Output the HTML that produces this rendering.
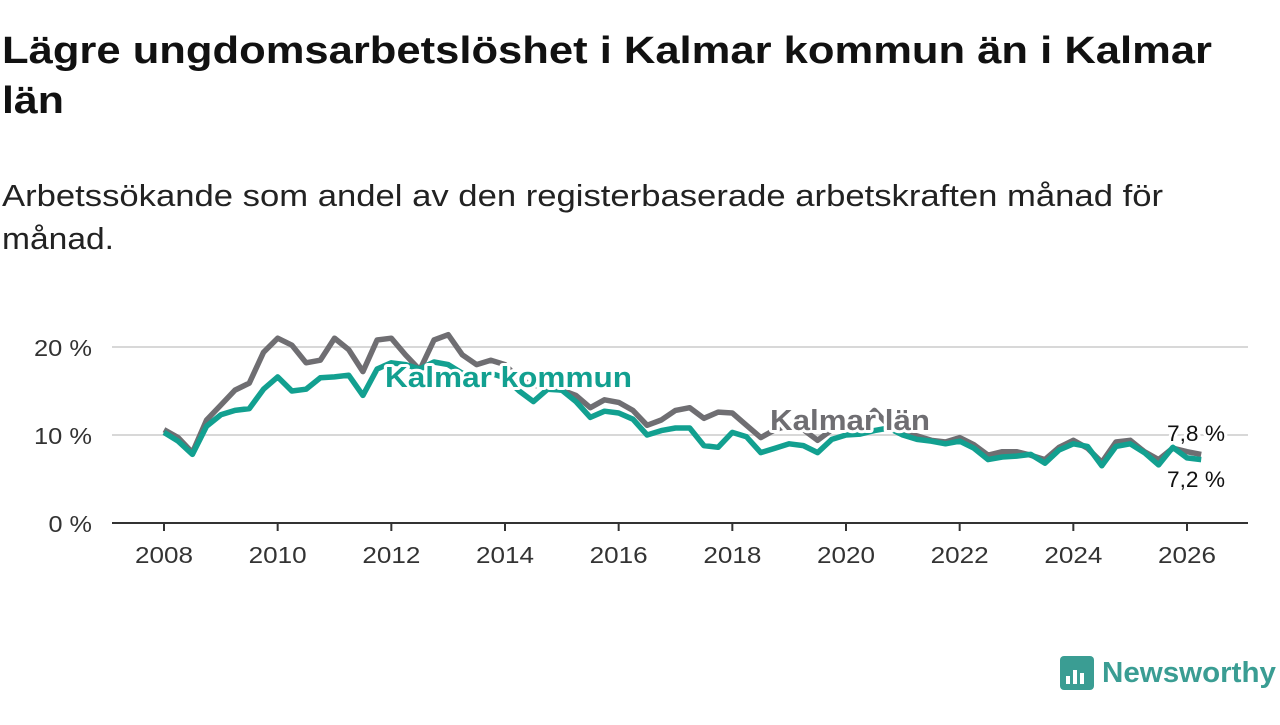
<!DOCTYPE html>
<html><head><meta charset="utf-8"><style>
html,body{margin:0;padding:0;background:#fff;}
body{width:1280px;height:720px;overflow:hidden;font-family:"Liberation Sans",sans-serif;}
</style></head><body>
<svg id="chart" width="1280" height="720" xmlns="http://www.w3.org/2000/svg">
<text x="2" y="63" font-size="38" font-weight="bold" fill="#111" textLength="1210" lengthAdjust="spacingAndGlyphs">Lägre ungdomsarbetslöshet i Kalmar kommun än i Kalmar</text>
<text x="2" y="113" font-size="38" font-weight="bold" fill="#111" textLength="62" lengthAdjust="spacingAndGlyphs">län</text>
<text x="2" y="206" font-size="31" fill="#222" textLength="1161" lengthAdjust="spacingAndGlyphs">Arbetssökande som andel av den registerbaserade arbetskraften månad för</text>
<text x="2" y="249" font-size="31" fill="#222" textLength="112" lengthAdjust="spacingAndGlyphs">månad.</text>
<g id="grid"></g><g id="series"></g><g id="labels"></g>
<g>
<rect x="1060" y="656" width="34" height="34" rx="4" fill="#3a9d93"/>
<rect x="1066" y="676" width="4" height="8" fill="#fff"/><rect x="1073" y="670" width="4" height="14" fill="#fff"/><rect x="1080" y="673" width="4" height="11" fill="#fff"/>
<text x="1102" y="682" font-size="29" font-weight="bold" fill="#3a9d93" textLength="174" lengthAdjust="spacingAndGlyphs">Newsworthy</text>
</g>
</svg>
<script>
const lanValues=[10.6,9.7,8.0,11.7,13.4,15.1,15.9,19.4,21.0,20.2,18.2,18.5,21.0,19.7,17.2,20.8,21.0,19.1,17.4,20.8,21.4,19.1,18.0,18.5,18.0,16.3,15.7,15.3,15.1,14.5,13.1,14.0,13.7,12.8,11.1,11.7,12.8,13.1,11.9,12.6,12.5,11.1,9.7,10.6,11.1,10.6,9.4,10.6,11.1,11.1,12.8,11.1,10.3,9.9,9.4,9.2,9.7,8.9,7.7,8.1,8.1,7.7,7.2,8.6,9.4,8.5,6.9,9.2,9.4,8.1,7.2,8.5,8.1,7.8];
const kommunValues=[10.3,9.3,7.8,11.0,12.3,12.8,13.0,15.2,16.6,15.0,15.2,16.5,16.6,16.8,14.5,17.5,18.2,18.0,17.5,18.3,18.0,17.0,16.8,17.0,16.5,15.0,13.8,15.2,15.1,13.8,12.0,12.7,12.5,11.8,10.0,10.5,10.8,10.8,8.8,8.6,10.3,9.8,8.0,8.5,9.0,8.8,8.0,9.5,10.0,10.1,10.5,10.8,10.0,9.5,9.3,9.0,9.3,8.5,7.2,7.5,7.6,7.8,6.8,8.3,9.0,8.7,6.5,8.7,9.0,8.0,6.6,8.6,7.4,7.2];
const startYear=2008;
const yTicks=[0,10,20];
const yTickLabels=["0 %","10 %","20 %"];
const xTicks=[2008,2010,2012,2014,2016,2018,2020,2022,2024,2026];
const NS="http://www.w3.org/2000/svg";
const xs=y=>164+(y-2008)*(1187-164)/18;
const ys=v=>523-v*8.8;
function mk(tag,attrs,parent){const e=document.createElementNS(NS,tag);for(const k in attrs)e.setAttribute(k,attrs[k]);parent.appendChild(e);return e;}
const grid=document.getElementById('grid');
yTicks.forEach((t,i)=>{
 if(t>0){const l=mk('line',{x1:112,x2:1248,y1:ys(t),y2:ys(t),stroke:'#d8d8d8','stroke-width':2},grid);
 
 }
 const tx=mk('text',{x:92,y:ys(t)+9,'font-size':23,fill:'#333','text-anchor':'end'},grid);tx.textContent=yTickLabels[i];
 tx.setAttribute('textLength',yTickLabels[i].length*14.5);
 tx.setAttribute('lengthAdjust','spacingAndGlyphs');
 
 
});
const ax=mk('line',{x1:112,x2:1248,y1:523,y2:523,stroke:'#333','stroke-width':2},grid);


xTicks.forEach(t=>{
 mk('line',{x1:xs(t),x2:xs(t),y1:523,y2:531,stroke:'#333','stroke-width':2},grid);
 const tx=mk('text',{x:xs(t),y:563,'font-size':23,fill:'#333','text-anchor':'middle',textLength:58,lengthAdjust:'spacingAndGlyphs'},grid);tx.textContent=t;
 
 
});
const ser=document.getElementById('series');
function line(vals,color,name){
 const d=vals.map((v,i)=>(i?'L':'M')+xs(startYear+i*0.25).toFixed(1)+','+ys(v).toFixed(1)).join('');
 const p=mk('path',{d:d,fill:'none',stroke:color,'stroke-width':5.5,'stroke-linejoin':'round'},ser);
 
 
}
line(lanValues,'#6f6e72','line-kalmar-lan');
line(kommunValues,'#12a090','line-kalmar-kommun');
const lab=document.getElementById('labels');
function label(x,y,txt,color,size,weight,len,name){
 const t=mk('text',{x:x,y:y,'font-size':size,'font-weight':weight,fill:color,stroke:'#fff','stroke-width':6,'paint-order':'stroke','stroke-linejoin':'round',textLength:len,lengthAdjust:'spacingAndGlyphs'},lab);
 t.textContent=txt;
 
 
}
label(385,387,'Kalmar kommun','#12a090',29,'bold',247,'label-kalmar-kommun');
label(770,430,'Kalmar län','#6f6e72',29,'bold',160,'label-kalmar-lan');
label(1167,441,'7,8 %','#111',22,'normal',58,'value-label-lan');
label(1167,487,'7,2 %','#111',22,'normal',58,'value-label-kommun');
</script>
</body></html>
